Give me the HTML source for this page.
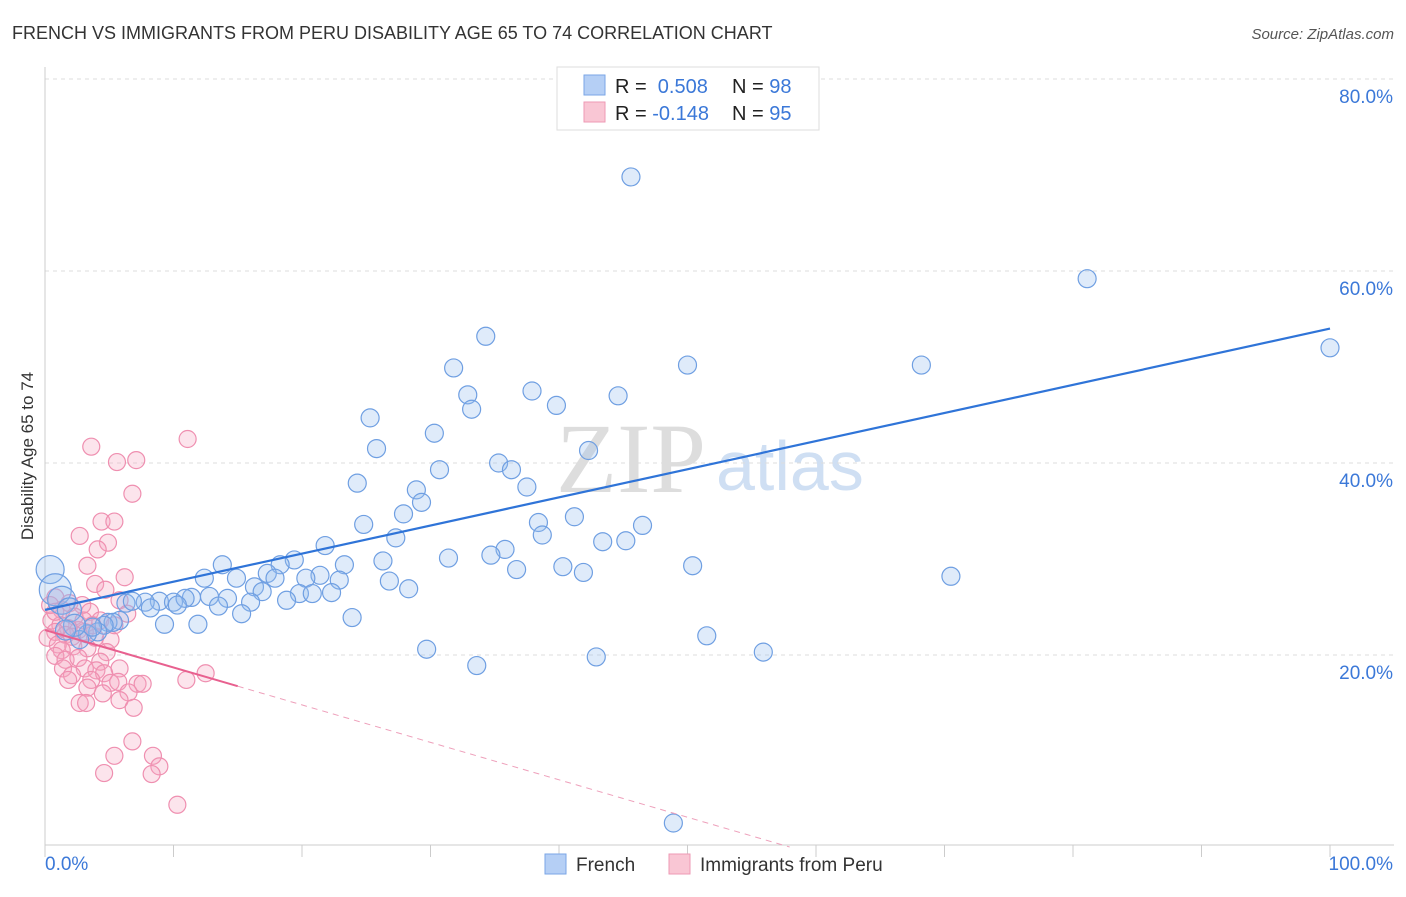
<!DOCTYPE html>
<html><head><meta charset="utf-8">
<style>
body{margin:0;background:#fff;font-family:"Liberation Sans",sans-serif;}
svg text{font-family:"Liberation Sans",sans-serif;}
</style></head>
<body>
<svg id="chart" width="1406" height="892" viewBox="0 0 1406 892">
<text x="12" y="39" font-size="18" fill="#333">FRENCH VS IMMIGRANTS FROM PERU DISABILITY AGE 65 TO 74 CORRELATION CHART</text>
<text x="1394" y="39" font-size="15" fill="#555" font-style="italic" text-anchor="end">Source: ZipAtlas.com</text>
<text transform="translate(33,456) rotate(-90)" font-size="17" fill="#333" text-anchor="middle">Disability Age 65 to 74</text>
<text x="556" y="492" font-size="100" fill="#ddd" font-family="Liberation Serif" style="font-family:'Liberation Serif',serif">ZIP</text>
<text x="716" y="490" font-size="70" fill="#cfdff3">atlas</text>
<g id="grid"></g>
<g id="axes"></g>
<g id="pink"></g>
<g id="blue"></g>
<g id="lines"></g>
<g>
<rect x="557" y="67" width="262" height="63" fill="#fff" stroke="#ddd"/>
<rect x="584" y="75" width="21" height="20" fill="#b5cff5" stroke="#7aa6e6"/>
<rect x="584" y="102" width="21" height="20" fill="#f9c6d4" stroke="#ee99b4"/>
<text x="615" y="93" font-size="20" fill="#222">R = <tspan fill="#3b78d8">&#160;0.508</tspan></text>
<text x="732" y="93" font-size="20" fill="#222">N = <tspan fill="#3b78d8">98</tspan></text>
<text x="615" y="120" font-size="20" fill="#222">R = <tspan fill="#3b78d8">-0.148</tspan></text>
<text x="732" y="120" font-size="20" fill="#222">N = <tspan fill="#3b78d8">95</tspan></text>
</g>
<g>
<rect x="545" y="854" width="21" height="20" fill="#b5cff5" stroke="#7aa6e6"/>
<text x="576" y="871" font-size="19" fill="#333">French</text>
<rect x="669" y="854" width="21" height="20" fill="#f9c6d4" stroke="#ee99b4"/>
<text x="700" y="871" font-size="19" fill="#333">Immigrants from Peru</text>
</g>
</svg>
<script>
const blueX=[45.6,81.1,100,34.3,50.0,68.2,31.8,37.9,32.9,44.6,33.2,39.8,25.3,30.3,25.8,42.3,35.3,30.7,36.3,24.3,28.9,37.5,29.3,27.9,24.8,38.4,41.2,46.5,38.7,27.3,43.4,45.2,21.8,35.8,34.7,31.4,19.4,13.8,26.3,23.3,18.3,36.7,40.3,41.9,50.4,70.5,17.3,12.4,14.9,21.4,17.9,20.3,22.9,26.8,16.3,16.9,19.8,22.3,20.8,28.3,11.4,14.2,16.0,18.8,12.8,8.9,7.8,10.0,10.9,6.3,6.8,8.2,10.3,13.5,15.3,9.3,11.9,23.9,5.8,4.9,5.3,4.6,4.1,3.3,2.7,3.7,51.5,55.9,29.7,42.9,33.6,48.9,0.4,0.8,1.3,1.9,2.3,1.6];
const blueY=[69.8,59.2,52.0,53.2,50.2,50.2,49.9,47.5,47.1,47.0,45.6,46.0,44.7,43.1,41.5,41.3,40.0,39.3,39.3,37.9,37.2,37.5,35.9,34.7,33.6,33.8,34.4,33.5,32.5,32.2,31.8,31.9,31.4,31.0,30.4,30.1,29.9,29.4,29.8,29.4,29.4,28.9,29.2,28.6,29.3,28.2,28.5,28.0,28.0,28.3,28.0,28.0,27.8,27.7,27.1,26.6,26.4,26.5,26.4,26.9,26.0,25.9,25.5,25.7,26.1,25.6,25.5,25.5,25.9,25.4,25.6,24.9,25.2,25.1,24.3,23.2,23.2,23.9,23.6,23.4,23.4,23.1,22.4,22.2,21.6,22.9,22.0,20.3,20.6,19.8,18.9,2.5,28.9,26.8,25.7,24.7,23.1,22.6];
const blueR=[9,9,9,9,9,9,9,9,9,9,9,9,9,9,9,9,9,9,9,9,9,9,9,9,9,9,9,9,9,9,9,9,9,9,9,9,9,9,9,9,9,9,9,9,9,9,9,9,9,9,9,9,9,9,9,9,9,9,9,9,9,9,9,9,9,9,9,9,9,9,9,9,9,9,9,9,9,9,9,9,9,9,9,9,9,9,9,9,9,9,9,9,14,16,14,12,11,10];
const pinkX=[11.1,3.6,7.1,5.6,6.8,4.4,5.4,2.7,4.9,4.1,3.3,6.2,3.9,4.7,0.8,5.8,1.9,2.9,1.3,3.5,6.4,2.3,4.3,0.5,1.2,1.8,2.6,3.1,0.8,1.6,2.1,3.9,5.1,0.2,1.0,2.2,3.3,1.3,4.8,0.8,1.6,2.6,4.3,1.4,3.1,5.8,4.0,2.1,4.6,12.5,1.8,3.6,5.1,5.7,7.2,7.6,11.0,3.3,6.5,4.5,5.8,2.7,3.2,6.9,6.8,8.4,5.4,8.9,4.6,8.3,10.3,0.4,0.8,3.0,5.4,3.7];
const pinkY=[42.5,41.7,40.3,40.1,36.8,33.9,33.9,32.4,31.7,31.0,29.3,28.1,27.4,26.8,26.0,25.7,25.4,25.2,24.7,24.5,24.3,24.0,23.6,23.6,23.1,22.8,22.6,22.4,22.4,22.1,21.9,21.8,21.6,21.8,21.1,20.9,20.7,20.5,20.3,19.9,19.5,19.7,19.3,18.6,18.6,18.6,18.4,17.9,18.1,18.1,17.4,17.4,17.1,17.2,17.0,17.0,17.4,16.6,16.1,16.0,15.3,15.0,15.0,14.5,11.0,9.5,9.5,8.4,7.7,7.6,4.4,25.2,24.5,23.6,23.1,23.1];
const yTicks=[20,40,60,80];
const xTicks=[0,10,20,30,40,50,60,70,80,90,100];
const blueFit=[24.7,54.0];
const pinkFit=[22.6,-0.39];
const pinkSolidEnd=15;

const NS="http://www.w3.org/2000/svg";
const sx=v=>45+v*12.85;
const sy=v=>847-v*9.6;
function mk(tag,attrs,parent){const e=document.createElementNS(NS,tag);for(const k in attrs)e.setAttribute(k,attrs[k]);parent.appendChild(e);return e;}
const grid=document.getElementById('grid'),axes=document.getElementById('axes');
yTicks.forEach(t=>{
 const l=mk('line',{x1:45,x2:1394,y1:sy(t),y2:sy(t),stroke:'#ddd','stroke-dasharray':'4,4'},grid);
 
 
 const tx=mk('text',{x:1393,y:sy(t)+24,'font-size':19,fill:'#3b78d8','text-anchor':'end'},axes);
 tx.textContent=t.toFixed(1)+'%';
 
 
});
const ax=mk('line',{x1:45,x2:45,y1:67,y2:847,stroke:'#ccc'},axes);


const bx=mk('line',{x1:45,x2:1394,y1:845,y2:845,stroke:'#ccc'},axes);


xTicks.forEach(t=>{
 const l=mk('line',{x1:sx(t),x2:sx(t),y1:845,y2:857,stroke:'#ccc'},axes);
 
 
});
[[0,'0.0%','start',45],[100,'100.0%','end',1393]].forEach(a=>{
 const tx=mk('text',{x:a[3],y:870,'font-size':19,fill:'#3b78d8','text-anchor':a[2]},axes);
 tx.textContent=a[1];
 
 
});
const pg=document.getElementById('pink');
pinkX.forEach((x,i)=>{
 const c=mk('circle',{cx:sx(x),cy:sy(pinkY[i]),r:8.5,fill:'rgba(246,165,192,0.3)',stroke:'#ef8fb0','stroke-width':1.2},pg);
 
 
});
const bg=document.getElementById('blue');
blueX.forEach((x,i)=>{
 const c=mk('circle',{cx:sx(x),cy:sy(blueY[i]),r:blueR[i],fill:'rgba(150,188,240,0.3)',stroke:'#6f9fe2','stroke-width':1.2},bg);
 
 
});
const lg=document.getElementById('lines');
const bl=mk('line',{x1:sx(0),y1:sy(blueFit[0]),x2:sx(100),y2:sy(blueFit[1]),stroke:'#2f74d8','stroke-width':2.2},lg);


const pe=pinkFit[0]+pinkFit[1]*pinkSolidEnd;
const pl=mk('line',{x1:sx(0),y1:sy(pinkFit[0]),x2:sx(pinkSolidEnd),y2:sy(pe),stroke:'#e8608f','stroke-width':2},lg);


const zx=-pinkFit[0]/pinkFit[1];
const pd=mk('line',{x1:sx(pinkSolidEnd),y1:sy(pe),x2:sx(zx),y2:sy(0),stroke:'#eea0bb','stroke-width':1,'stroke-dasharray':'6,5'},lg);


</script>
</body></html>
